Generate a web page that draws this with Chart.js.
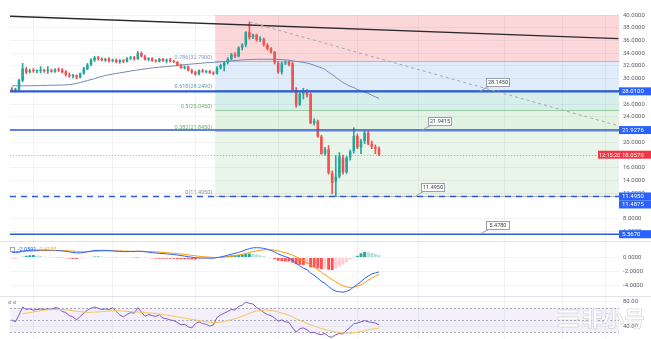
<!DOCTYPE html>
<html>
<head>
<meta charset="utf-8">
<script src="https://cdn.jsdelivr.net/npm/chart.js@4.4.1/dist/chart.umd.min.js"></script>
<style>
  html, body { margin: 0; padding: 0; background: #fff; }
  #wrap { position: relative; width: 651px; height: 339px; overflow: hidden; }
  canvas { position: absolute; left: 0; }
</style>
</head>
<body>
<div id="wrap">
  <canvas id="price" width="651" height="241" style="top:0"></canvas>
  <canvas id="macd" width="651" height="55" style="top:241px"></canvas>
  <canvas id="rsi" width="651" height="43" style="top:296px"></canvas>
</div>
<script>
// daily candles
var open = [28.3,28.2,28.3,29.7,31.5,31.0,31.3,31.2,31.25,31.3, 31.2,31.3,31.1,31.4,31.4,31.1,30.6,30.4,30.5,30.2,
  30.8,31.5,32.2,32.9,33.3,33.1,32.9,33.1,32.8,32.95, 32.6,32.9,32.7,33.2,33.3,33.1,34.0,33.5,33.0,33.2,
  32.8,32.7,33.1,32.8,33.0,32.7,32.6,32.1,31.7,31.9, 31.3,31.0,30.7,31.3,31.1,31.2,30.9,30.8,31.7,32.0,
  32.5,33.1,33.8,33.5,34.9,35.3,37.3,36.5,36.9,36.1, 36.2,35.3,34.7,34.2,32.5,31.0,32.4,32.6,32.4,28.2,
  25.9,27.6,27.8,27.6,23.0,23.3,20.9,18.2,18.9,15.2, 13.8,14.6,17.6,15.3,17.6,18.6,21.0,19.2,20.2,21.5,
  19.8,19.3,19.0];
var high = [28.6,28.5,29.9,32.4,31.8,31.5,31.6,31.4,31.9,31.5, 31.9,31.5,31.6,31.7,31.6,31.3,30.9,30.7,30.6,30.9,
  31.8,32.4,33.1,33.5,33.5,33.3,33.2,33.3,33.1,33.1, 33.0,33.0,33.3,33.5,33.5,34.3,34.2,33.7,33.3,33.3,
  33.0,33.2,33.2,33.1,33.2,32.9,32.7,32.3,32.0,32.0, 31.5,31.2,31.4,31.5,31.3,31.3,31.1,31.9,32.3,32.7,
  33.3,34.0,34.1,35.0,35.5,37.4,38.9,37.0,37.0,36.6, 36.4,35.5,34.9,34.3,32.7,32.6,32.8,32.8,32.6,28.6,
  27.8,28.5,28.3,27.8,23.7,23.5,21.1,19.2,19.5,15.5, 17.9,18.4,18.0,17.8,18.8,22.3,21.3,20.5,21.8,21.8,
  20.2,19.6,19.3];
var low = [28.0,27.9,28.1,29.5,30.8,30.9,31.0,30.9,30.9,31.0, 30.8,31.0,31.0,31.1,30.9,30.4,30.2,30.1,30.0,30.1,
  30.7,31.4,32.0,32.7,32.9,32.8,32.7,32.6,32.6,32.5, 32.4,32.5,32.6,33.0,32.9,33.0,33.4,32.9,32.8,32.7,
  32.6,32.6,32.7,32.5,32.6,32.5,32.0,31.6,31.5,31.2, 30.8,30.5,30.6,31.0,30.9,30.8,30.6,30.7,31.5,31.2,
  32.3,32.9,33.3,33.4,34.5,35.0,36.2,36.3,35.9,35.8, 35.1,34.5,34.0,32.3,30.8,30.7,32.2,32.0,28.0,25.5,
  25.8,26.8,27.1,22.9,22.7,20.8,18.1,18.0,15.0,11.9, 11.49,14.4,15.0,15.1,17.2,18.3,19.0,18.2,19.8,19.6,
  19.0,18.2,17.9];
var close = [28.2,28.4,29.8,31.6,31.0,31.3,31.2,31.25,31.3,31.2, 31.3,31.1,31.4,31.3,31.0,30.6,30.4,30.5,30.2,30.8,
  31.6,32.2,33.0,33.3,33.1,32.9,33.1,32.8,32.95,32.6, 32.9,32.7,33.2,33.3,33.1,34.0,33.5,33.0,33.2,32.8,
  32.7,33.1,32.8,33.0,32.7,32.6,32.1,31.7,31.9,31.3, 31.0,30.7,31.3,31.1,31.2,30.9,30.8,31.7,32.1,32.5,
  33.1,33.8,33.5,34.9,35.3,37.3,36.5,36.9,36.1,36.3, 35.3,34.7,34.2,32.5,31.0,32.4,32.6,32.2,28.2,25.8,
  27.6,27.8,27.4,23.0,23.4,20.9,18.2,18.9,15.2,13.6, 14.6,17.8,15.3,17.6,18.6,21.0,19.2,20.2,21.5,19.8,
  19.3,19.0,18.057];
var ma = [28.87,28.87,28.87,28.88,28.88,28.88,28.9,28.9,28.92,28.93, 28.95,28.96,28.97,28.98,29.0,29.02,29.08,29.15,29.25,29.4,
  29.55,29.7,29.85,30.0,30.2,30.35,30.5,30.6,30.72,30.82, 30.9,31.0,31.1,31.2,31.28,31.36,31.45,31.53,31.62,31.7,
  31.75,31.8,31.85,31.9,31.95,32.0,32.07,32.13,32.2,32.25, 32.3,32.35,32.4,32.45,32.5,32.53,32.56,32.6,32.65,32.7,
  32.75,32.8,32.85,32.9,32.95,32.98,33.0,33.02,33.04,33.05, 33.05,33.05,33.05,33.04,33.02,33.0,32.95,32.9,32.8,32.72,
  32.65,32.55,32.45,32.3,32.1,31.9,31.7,31.45,31.0,30.65, 30.2,29.8,29.4,29.1,28.8,28.6,28.3,28.1,27.85,27.7,
  27.4,27.15,26.9];

// MACD (12, 26, 9)
var macdLine = [0.75,0.72,0.75,0.9,1.0,1.05,1.05,1.05,1.05,1.05, 1.05,1.02,1.0,0.98,0.95,0.88,0.8,0.72,0.66,0.66,
  0.72,0.82,0.92,1.0,1.02,1.03,1.02,0.98,0.95,0.9, 0.88,0.84,0.85,0.86,0.85,0.9,0.88,0.82,0.76,0.7,
  0.64,0.6,0.56,0.52,0.48,0.42,0.36,0.28,0.2,0.12, 0.04,-0.04,-0.06,-0.08,-0.09,-0.1,-0.1,-0.02,0.08,0.2,
  0.34,0.48,0.6,0.74,0.9,1.1,1.28,1.38,1.4,1.38, 1.3,1.18,1.02,0.8,0.5,0.3,0.12,-0.05,-0.4,-0.85,
  -1.2,-1.5,-1.75,-2.2,-2.55,-2.95,-3.4,-3.7,-4.15,-4.55, -4.8,-4.9,-4.95,-4.85,-4.6,-4.2,-3.85,-3.45,-3.0,-2.65,
  -2.35,-2.2,-2.0591];
var signalLine = [0.85,0.85,0.85,0.86,0.88,0.9,0.93,0.95,0.97,0.99, 1.0,1.0,1.0,1.0,0.99,0.97,0.95,0.92,0.88,0.84,
  0.82,0.82,0.84,0.87,0.9,0.93,0.95,0.96,0.96,0.95, 0.94,0.92,0.9,0.89,0.88,0.88,0.88,0.87,0.85,0.83,
  0.8,0.77,0.73,0.69,0.65,0.6,0.55,0.5,0.44,0.38, 0.31,0.24,0.18,0.13,0.09,0.05,0.02,0.01,0.02,0.05,
  0.1,0.17,0.26,0.35,0.46,0.58,0.72,0.85,0.96,1.05, 1.1,1.12,1.1,1.05,0.95,0.82,0.68,0.52,0.34,0.1,
  -0.16,-0.45,-0.75,-1.05,-1.4,-1.75,-2.1,-2.45,-2.8,-3.15, -3.5,-3.8,-4.05,-4.2,-4.3,-4.25,-4.1,-3.9,-3.6,-3.25,
  -2.95,-2.65,-2.4135];
var histogram = [-0.1,-0.12,-0.05,0.1,0.25,0.32,0.35,0.3,0.22,0.12, 0.08,0.05,0.02,-0.02,-0.05,-0.1,-0.15,-0.2,-0.22,-0.18,
  -0.1,0.0,0.08,0.13,0.15,0.12,0.08,0.03,0.0,-0.05, -0.07,-0.08,-0.05,-0.03,-0.03,0.02,0.0,-0.05,-0.08,-0.12,
  -0.15,-0.17,-0.17,-0.17,-0.17,-0.18,-0.2,-0.22,-0.24,-0.26, -0.27,-0.28,-0.24,-0.2,-0.18,-0.15,-0.12,-0.03,0.06,0.15,
  0.24,0.31,0.34,0.39,0.44,0.52,0.56,0.53,0.44,0.33, 0.2,0.06,-0.08,-0.25,-0.45,-0.52,-0.56,-0.57,-0.74,-0.95,
  -1.04,-1.05,-1.0,-1.4,-1.45,-1.55,-1.65,-1.6,-1.75,-1.8, -1.6,-1.3,-1.0,-0.65,-0.3,0.05,0.25,0.6,0.8,0.75,
  0.65,0.5,0.35];

// RSI (14) and its moving average
var rsi = [50,47,58,71,67,68,66,67,68,67, 68,67,70,69,64,62,57,55,50,56,
  61,66,69,71,69,67,68,67,70,64, 58,55,59,62,61,70,63,56,59,57,
  56,58,53,52,50,49,46,42,43,39, 37,44,47,44,43,40,42,54,58,61,
  64,67,66,72,74,79,77,76,70,67, 62,59,57,53,48,50,47,46,37,30,
  36,37,34,29,30,27,26,28,23,22, 26,28,27,33,38,44,45,47,49,47,
  46,45,42];
var rsiMa = [null,null,null,60,61,62,63,64,65,66, 66.5,67,67,67,67,66.5,66,65,64,63.5,
  63,62.5,62.5,63,63,63.5,64,64.5,65,65, 65,64.5,64,63.5,63,63,62.5,62,61.5,61,
  60.5,60,59,58,57,56,55,54,53,52, 51,50,49,48,47,46.5,46,46,46.5,47.5,
  49,50.5,52,54,56,58.5,61,63,64.5,65.5, 66,66,65.5,64.5,63,61.5,59.5,57.5,55,52,
  49.5,47,44.5,42,40,38,36,34.5,33,31.5, 30.5,29.5,29,28.5,28.5,29,30,31,32.5,34,
  35,36,37];

// axis ticks
var priceTicks = [6, 8, 12, 14, 16, 18, 20, 22, 24, 26, 28, 30, 32, 34, 36, 38, 40];
var macdTicks = [0, -2, -4];
var rsiTicks = [80, 40];
var vGrid = [6, 28, 51, 74, 96, 113, 137, 153, 165];

// drawings on the price pane
var fibStart = 56.5;
var fibRatios = [1, 0.786, 0.618, 0.5, 0.382, 0];
var fibPrices = [38.595, 32.79, 28.249, 25.045, 21.845, 11.495];
var levelLines = [28.01, 21.9276, 11.495, 5.567];
var levelTags = [28.01, 21.9276, 11.495, 11.4875, 5.567];
var trendLine = [[-0.5, 39.8], [168.5, 36.3]];
var peakLine = [[66, 38.9], [168.5, 22.6]];
var callouts = [
  { text: '28.1450', i: 130, v: 28.01 },
  { text: '21.9415', i: 114, v: 21.9276 },
  { text: '11.4950', i: 112, v: 11.495 },
  { text: '5.4780', i: 130, v: 5.567 }
];
var countdown = '12:15:20';

var UP = '#26a69a', DOWN = '#ef5350';
var gridColor = 'rgba(42, 46, 57, 0.06)';
var FONT = 'Roboto, "Liberation Sans", sans-serif';

function xAxis() {
  return {
    type: 'linear', min: -0.5, max: 168.67, offset: false,
    afterBuildTicks: function (s) { s.ticks = vGrid.map(function (v) { return { value: v }; }); },
    afterFit: function (s) { s.height = 0; },
    ticks: { display: false },
    grid: { color: gridColor, drawTicks: false, offset: false },
    border: { display: false }
  };
}

function yAxis(min, max, ticks, digits) {
  return {
    position: 'right', min: min, max: max,
    afterBuildTicks: function (s) { s.ticks = ticks.map(function (v) { return { value: v }; }); },
    afterFit: function (s) { s.width = 32; s.paddingTop = 0; s.paddingBottom = 0; },
    grid: { color: gridColor, drawTicks: false },
    border: { display: false },
    ticks: {
      padding: 4, color: '#5d606b', font: { size: 6, family: FONT },
      callback: function (v) { return Number(v).toFixed(digits); }
    }
  };
}

var baseOptions = function (scales, padTop) {
  return {
    responsive: false, animation: false, events: [],
    layout: { padding: { left: 10, right: 0, top: padTop, bottom: 0 } },
    plugins: { legend: { display: false }, tooltip: { enabled: false } },
    scales: scales
  };
};

function seg(ctx, x0, y0, x1, y1) {
  ctx.beginPath(); ctx.moveTo(x0, y0); ctx.lineTo(x1, y1); ctx.stroke();
}

function tag(ctx, y, text, color, left) {
  ctx.fillStyle = color;
  ctx.fillRect(left, y - 4, 651 - left, 8);
  ctx.fillStyle = '#fff';
  ctx.textAlign = 'left'; ctx.textBaseline = 'middle';
  ctx.font = '6px ' + FONT;
  ctx.fillText(text, 622, y + 0.5);
}

var fibFills = ['rgba(242, 54, 69, 0.2)', 'rgba(90, 150, 230, 0.18)', 'rgba(8, 153, 129, 0.16)',
  'rgba(76, 175, 80, 0.16)', 'rgba(76, 175, 80, 0.12)'];
var fibInk = ['#e57373', '#7d9cc8', '#5b9fb0', '#66b36f', '#66b36f', '#8a8e99'];

var pricePanel = {
  id: 'pricePanel',
  beforeDraw: function (chart) {
    var ctx = chart.ctx, a = chart.chartArea, x = chart.scales.x, y = chart.scales.y;
    var fx = x.getPixelForValue(fibStart);
    ctx.save();
    for (var k = 0; k < fibPrices.length - 1; k++) {
      var top = k === 0 ? a.top : y.getPixelForValue(fibPrices[k]);
      var bot = y.getPixelForValue(fibPrices[k + 1]);
      ctx.fillStyle = fibFills[k];
      ctx.fillRect(fx, top, a.right - fx, bot - top);
    }
    ctx.restore();
  },
  beforeDatasetsDraw: function (chart) {
    var ctx = chart.ctx, a = chart.chartArea, x = chart.scales.x, y = chart.scales.y;
    var fx = x.getPixelForValue(fibStart);
    ctx.save();
    ctx.lineWidth = 1;
    ctx.font = '5.5px ' + FONT;
    ctx.textAlign = 'right'; ctx.textBaseline = 'bottom';
    for (var k = 1; k < fibPrices.length; k++) {
      var py = Math.round(y.getPixelForValue(fibPrices[k])) + 0.5;
      ctx.strokeStyle = fibInk[k];
      ctx.globalAlpha = 0.6;
      seg(ctx, fx, py, a.right, py);
      ctx.globalAlpha = 1;
      ctx.fillStyle = fibInk[k];
      ctx.fillText(fibRatios[k] + '(' + fibPrices[k].toFixed(4) + ')', fx - 3, py - 1);
    }
    // last price line
    ctx.setLineDash([1, 2]);
    ctx.strokeStyle = 'rgba(239, 83, 80, 0.5)';
    var cy = Math.round(y.getPixelForValue(close[close.length - 1])) + 0.5;
    seg(ctx, a.left, cy, a.right, cy);
    ctx.restore();
  },
  afterDatasetsDraw: function (chart) {
    var ctx = chart.ctx, a = chart.chartArea, x = chart.scales.x, y = chart.scales.y;
    ctx.save();
    ctx.beginPath(); ctx.rect(a.left, a.top, a.right - a.left, a.bottom - a.top); ctx.clip();
    // horizontal levels
    ctx.strokeStyle = '#2f5bd3';
    levelLines.forEach(function (v, n) {
      var py = y.getPixelForValue(v);
      ctx.lineWidth = n === 0 ? 2.2 : 1.5;
      ctx.setLineDash(n === 2 ? [6, 5] : []);
      seg(ctx, a.left, py, a.right, py);
    });
    ctx.setLineDash([]);
    // long trend line
    ctx.strokeStyle = '#2a2a2e'; ctx.lineWidth = 1.3;
    seg(ctx, x.getPixelForValue(trendLine[0][0]), y.getPixelForValue(trendLine[0][1]),
      x.getPixelForValue(trendLine[1][0]), y.getPixelForValue(trendLine[1][1]));
    // dashed line from the top
    ctx.strokeStyle = '#a3a6ae'; ctx.lineWidth = 1; ctx.setLineDash([3, 3]);
    seg(ctx, x.getPixelForValue(peakLine[0][0]), y.getPixelForValue(peakLine[0][1]),
      x.getPixelForValue(peakLine[1][0]), y.getPixelForValue(peakLine[1][1]));
    ctx.setLineDash([]);
    // price callouts
    callouts.forEach(function (c) {
      var px = x.getPixelForValue(c.i), py = y.getPixelForValue(c.v);
      var bx = Math.round(px + 6) + 0.5, by = Math.round(py - 13) + 0.5, w = 23, h = 8;
      ctx.strokeStyle = '#9aa0ad'; ctx.lineWidth = 1;
      seg(ctx, px, py, bx + 2, by + h);
      ctx.fillStyle = '#fff'; ctx.fillRect(bx, by, w, h);
      ctx.strokeRect(bx, by, w, h);
      ctx.fillStyle = '#3a3d45'; ctx.font = '5.5px ' + FONT;
      ctx.textAlign = 'center'; ctx.textBaseline = 'middle';
      ctx.fillText(c.text, bx + w / 2, by + h / 2 + 0.5);
    });
    ctx.restore();
  },
  afterDraw: function (chart) {
    var ctx = chart.ctx, y = chart.scales.y;
    ctx.save();
    var prev = -99;
    levelTags.forEach(function (v) {
      var py = y.getPixelForValue(v);
      if (py - prev < 8) py = prev + 8;
      prev = py;
      tag(ctx, py, v.toFixed(4), '#2962ff', 619);
    });
    var last = close[close.length - 1];
    var ly = y.getPixelForValue(last);
    tag(ctx, ly, last.toFixed(4), '#f23645', 598);
    ctx.fillStyle = '#fff'; ctx.font = '5.5px ' + FONT; ctx.textAlign = 'left';
    ctx.fillText(countdown, 599, ly + 0.5);
    ctx.restore();
  }
};

var idx = close.map(function (c, i) { return i; });

new Chart(document.getElementById('price'), {
  type: 'bar',
  data: {
    datasets: [
      {
        type: 'line', data: idx.map(function (i) { return { x: i, y: ma[i] }; }),
        borderColor: '#6f87b8', borderWidth: 1, pointRadius: 0, tension: 0.3
      },
      {
        data: idx.map(function (i) { return { x: i, y: [low[i], high[i]] }; }),
        grouped: false, barThickness: 1,
        backgroundColor: idx.map(function (i) { return close[i] >= open[i] ? UP : DOWN; })
      },
      {
        data: idx.map(function (i) { return { x: i, y: [open[i], close[i]] }; }),
        grouped: false, categoryPercentage: 1, barPercentage: 0.72, minBarLength: 1,
        backgroundColor: idx.map(function (i) { return close[i] >= open[i] ? UP : DOWN; })
      }
    ]
  },
  options: baseOptions({ x: xAxis(), y: yAxis(4.5, 40, priceTicks, 4) }, 15),
  plugins: [pricePanel]
});

function paneTopRule(chart) {
  var ctx = chart.ctx;
  ctx.save(); ctx.strokeStyle = '#e0e3eb'; ctx.lineWidth = 1;
  seg(ctx, 0, 0.5, 651, 0.5); ctx.restore();
}

new Chart(document.getElementById('macd'), {
  type: 'bar',
  data: {
    datasets: [
      {
        type: 'line', data: idx.map(function (i) { return { x: i, y: macdLine[i] }; }),
        borderColor: '#2962ff', borderWidth: 1, pointRadius: 0
      },
      {
        type: 'line', data: idx.map(function (i) { return { x: i, y: signalLine[i] }; }),
        borderColor: '#ff9800', borderWidth: 1, pointRadius: 0
      },
      {
        data: idx.map(function (i) { return { x: i, y: histogram[i] }; }),
        grouped: false, categoryPercentage: 1, barPercentage: 0.8,
        backgroundColor: idx.map(function (i) {
          var v = histogram[i], p = i > 0 ? histogram[i - 1] : v;
          if (v >= 0) return v >= p ? UP : '#b2dfdb';
          return v <= p ? '#ff5252' : '#ffcdd2';
        })
      }
    ]
  },
  options: baseOptions({ x: xAxis(), y: yAxis(-5.5, 2.36, macdTicks, 4) }, 0),
  plugins: [{
    id: 'macdLegend',
    beforeDraw: paneTopRule,
    afterDraw: function (chart) {
      var ctx = chart.ctx;
      ctx.save();
      ctx.font = '5.5px ' + FONT; ctx.textBaseline = 'middle'; ctx.textAlign = 'left';
      ctx.strokeStyle = '#9598a1'; ctx.lineWidth = 0.8;
      ctx.strokeRect(10.5, 6.5, 4, 4);
      ctx.fillStyle = '#2962ff';
      ctx.fillText(macdLine[macdLine.length - 1].toFixed(4), 18, 9);
      ctx.fillStyle = '#ff9800';
      ctx.fillText(signalLine[signalLine.length - 1].toFixed(4), 38, 9);
      ctx.restore();
    }
  }]
});

new Chart(document.getElementById('rsi'), {
  type: 'line',
  data: {
    datasets: [
      {
        data: idx.map(function (i) { return { x: i, y: rsiMa[i] }; }),
        borderColor: '#f5c25a', borderWidth: 1, pointRadius: 0, tension: 0.3
      },
      {
        data: idx.map(function (i) { return { x: i, y: rsi[i] }; }),
        borderColor: '#7e57c2', borderWidth: 1, pointRadius: 0
      }
    ]
  },
  options: baseOptions({ x: xAxis(), y: yAxis(19, 89, rsiTicks, 2) }, 0),
  plugins: [{
    id: 'rsiBand',
    beforeDraw: paneTopRule,
    beforeDatasetsDraw: function (chart) {
      var ctx = chart.ctx, a = chart.chartArea, y = chart.scales.y;
      var t = y.getPixelForValue(70), b = y.getPixelForValue(30);
      ctx.save();
      ctx.fillStyle = 'rgba(126, 87, 194, 0.09)';
      ctx.fillRect(a.left, t, a.right - a.left, b - t);
      ctx.strokeStyle = '#a9a9bd'; ctx.lineWidth = 1; ctx.setLineDash([2, 2]);
      [70, 50, 30].forEach(function (v) {
        var py = Math.round(y.getPixelForValue(v)) + 0.5;
        seg(ctx, a.left, py, a.right, py);
      });
      ctx.restore();
    },
    afterDraw: function (chart) {
      var ctx = chart.ctx;
      ctx.save();
      ctx.fillStyle = '#8a8e99'; ctx.font = '6px ' + FONT;
      ctx.textAlign = 'left'; ctx.textBaseline = 'middle';
      ctx.fillText('ø ø', 8, 6);
      // site watermark
      ctx.fillStyle = 'rgba(255, 255, 255, 0.92)';
      ctx.strokeStyle = 'rgba(150, 150, 165, 0.45)'; ctx.lineWidth = 0.6;
      [14, 21, 28].forEach(function (yy) {
        ctx.fillRect(558, yy, 20, 3); ctx.strokeRect(558, yy, 20, 3);
      });
      ctx.font = 'bold 21px "Noto Sans CJK SC", sans-serif';
      ctx.textBaseline = 'middle';
      ctx.fillText('非小号', 582, 22);
      ctx.strokeText('非小号', 582, 22);
      ctx.restore();
    }
  }]
});
</script>
</body>
</html>
